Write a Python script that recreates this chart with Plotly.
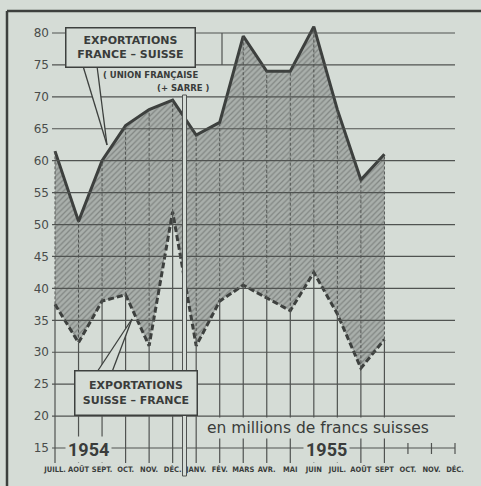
import plotly.graph_objects as go

# ---- data ----
months_1954 = ["JUILL.", "AOÛT", "SEPT.", "OCT.", "NOV.", "DÉC."]
months_1955 = ["JANV.", "FÉV.", "MARS", "AVR.", "MAI", "JUIN", "JUIL.", "AOÛT", "SEPT", "OCT.", "NOV.", "DÉC."]
france_suisse = [61.5, 50.5, 60, 65.5, 68, 69.5, 64, 66, 79.5, 74, 74, 81, 68, 57, 61]
suisse_france = [37.5, 31.5, 38, 39, 31, 52, 31, 38, 40.5, 38.5, 36.5, 42.5, 36, 27.5, 32]
y_ticks = [15, 20, 25, 30, 35, 40, 45, 50, 55, 60, 65, 70, 75, 80]

months = months_1954 + months_1955
xs = list(range(len(france_suisse)))
all_x = list(range(len(months)))

# ---- styling ----
W, H = 481, 486
BG = "#d5dcd6"
INK = "#3d403e"
GRID = "#505351"
# pixel mapping: month 0 -> px 55, month 17 -> px 455 ; value 80 -> py 33, 15 -> py 448
dx = 400 / 17
dy = 415 / 65
xr = [(0 - 55) / dx, (W - 55) / dx]
yr = [15 - (H - 448) / dy, 80 + 33 / dy]

def px2x(px):
    return (px - 55) / dx

def py2y(py):
    return 80 - (py - 33) / dy

fig = go.Figure()
fig.add_trace(go.Scatter(
    x=xs, y=suisse_france, mode="lines",
    line=dict(color=INK, width=3, dash="6px,3px"),
    hoverinfo="skip", showlegend=False,
))
fig.add_trace(go.Scatter(
    x=xs, y=france_suisse, mode="lines", fill="tonexty",
    fillpattern=dict(shape="/", bgcolor="#a9afab", fgcolor="#5a5e5b", size=4, solidity=0.32),
    line=dict(color=INK, width=3),
    hoverinfo="skip", showlegend=False,
))

shapes = []
# horizontal grid lines
for v in y_ticks:
    shapes.append(dict(type="line", xref="x", yref="y", x0=px2x(52), x1=len(months) - 1,
                       y0=v, y1=v, line=dict(color=GRID, width=1.2), layer="above"))
# vertical lines
ybot = py2y(463)
for i, (lo, hi) in enumerate(zip(suisse_france, france_suisse)):
    shapes.append(dict(type="line", xref="x", yref="y", x0=i, x1=i, y0=ybot, y1=lo,
                       line=dict(color=GRID, width=1.2), layer="above"))
    shapes.append(dict(type="line", xref="x", yref="y", x0=i, x1=i, y0=lo, y1=hi,
                       line=dict(color=GRID, width=1, dash="3px,2px"), layer="above"))
for i in all_x[len(france_suisse):]:
    shapes.append(dict(type="line", xref="x", yref="y", x0=i, x1=i, y0=py2y(443), y1=py2y(454),
                       line=dict(color=GRID, width=1.2), layer="above"))
# small segment near top
shapes.append(dict(type="line", xref="x", yref="y", x0=px2x(222), x1=px2x(222), y0=75, y1=80,
                   line=dict(color=GRID, width=1.2), layer="above"))
# double line separating the years
shapes.append(dict(type="rect", xref="x", yref="y", x0=px2x(182.5), x1=px2x(186.5),
                   y0=py2y(476), y1=py2y(95), fillcolor=BG, line=dict(color=GRID, width=1), layer="above"))
# frame
shapes.append(dict(type="line", xref="paper", yref="paper", x0=7 / W, x1=1, y0=1 - 11 / H, y1=1 - 11 / H,
                   line=dict(color=INK, width=2.5), layer="above"))
shapes.append(dict(type="line", xref="paper", yref="paper", x0=7 / W, x1=7 / W, y0=0, y1=1 - 11 / H,
                   line=dict(color=INK, width=2.5), layer="above"))

# callout pointers
def pointer(p1, tip, p2):
    a = (px2x(p1[0]), py2y(p1[1]))
    t = (px2x(tip[0]), py2y(tip[1]))
    b = (px2x(p2[0]), py2y(p2[1]))
    shapes.append(dict(type="path", xref="x", yref="y",
                       path=f"M {a[0]} {a[1]} L {t[0]} {t[1]} L {b[0]} {b[1]} Z",
                       fillcolor=BG, line=dict(width=0), layer="above"))
    for q in (a, b):
        shapes.append(dict(type="line", xref="x", yref="y", x0=q[0], y0=q[1], x1=t[0], y1=t[1],
                           line=dict(color=INK, width=1.3), layer="above"))

pointer((83, 66), (107, 145), (97, 66))
pointer((97, 372), (132, 319), (112, 372))

ann = []
box_font = dict(family="DejaVu Sans", size=11, color="#3a3c3b", weight="bold")
ann.append(dict(x=px2x(130.5), y=py2y(47), xref="x", yref="y", showarrow=False,
                text="EXPORTATIONS<br>FRANCE – SUISSE", font=box_font,
                bgcolor=BG, bordercolor=INK, borderwidth=1.5, borderpad=2,
                width=124, height=34, align="center"))
ann.append(dict(x=px2x(136), y=py2y(392.5), xref="x", yref="y", showarrow=False,
                text="EXPORTATIONS<br>SUISSE – FRANCE", font=box_font,
                bgcolor=BG, bordercolor=INK, borderwidth=1.5, borderpad=2,
                width=117, height=39, align="center"))
small_font = dict(family="DejaVu Sans", size=8.5, color="#3a3c3b", weight="bold")
ann.append(dict(x=px2x(150), y=py2y(75), xref="x", yref="y", showarrow=False,
                text="( UNION FRANÇAISE", font=small_font))
ann.append(dict(x=px2x(183), y=py2y(88), xref="x", yref="y", showarrow=False,
                text="(+ SARRE )", font=small_font))
ann.append(dict(x=px2x(318), y=py2y(428), xref="x", yref="y", showarrow=False,
                text="en millions de francs suisses",
                font=dict(family="DejaVu Sans", size=15.5, color="#3a3c3b"),
                bgcolor=BG, borderpad=1))
year_font = dict(family="Roboto", size=18, color="#3a3c3b", weight="bold")
ann.append(dict(x=px2x(88), y=py2y(449), xref="x", yref="y", showarrow=False,
                text="1954", font=year_font, bgcolor=BG, borderpad=2))
ann.append(dict(x=px2x(326), y=py2y(449), xref="x", yref="y", showarrow=False,
                text="1955", font=year_font, bgcolor=BG, borderpad=2))

fig.update_layout(
    width=W, height=H,
    margin=dict(l=0, r=0, t=0, b=0),
    paper_bgcolor=BG, plot_bgcolor=BG,
    shapes=shapes, annotations=ann,
    xaxis=dict(range=xr, showgrid=False, zeroline=False, showline=False,
               tickmode="array", tickvals=all_x, ticktext=months, ticks="",
               tickfont=dict(family="Liberation Sans Narrow, DejaVu Sans Condensed, Liberation Sans", size=7.5,
                             color="#3a3c3b", weight="bold"),
               anchor="free", position=(H - 463) / H, tickangle=0, fixedrange=True),
    yaxis=dict(range=yr, showgrid=False, zeroline=False, showline=False,
               tickmode="array", tickvals=y_ticks, ticks="",
               tickfont=dict(family="DejaVu Sans", size=12, color="#4a4c4b"),
               anchor="free", position=49 / W, fixedrange=True),
)

fig.write_html("out.html",
               config={"displayModeBar": False},
               post_script="document.body.style.margin='0';document.body.style.padding='0';"
                           "document.body.style.overflow='hidden';")
